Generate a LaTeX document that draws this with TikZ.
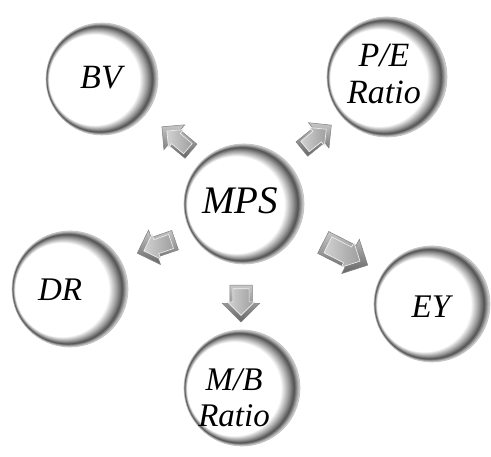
\documentclass[tikz,border=0pt]{standalone}
\usepackage{fontspec}
\setmainfont{Liberation Serif}
\usetikzlibrary{shapes.arrows,calc}

\tikzset{
  rim/.style={circle, draw=black!25, line width=0.6pt, fill=black!18, inner sep=0pt},
  btntext/.style={align=center, inner sep=0pt},
  arrbody/.style={single arrow, single arrow head indent=0pt, inner sep=0pt,
    draw=black!50, line width=0.5pt, top color=black!22, bottom color=black!60},
  arrface/.style={single arrow, single arrow head indent=0pt, inner sep=0pt,
    draw=black!5, line width=0.6pt, left color=black!18, right color=black!38},
}

% round button: name, x, y, radius, text x, text y, font size, line skip, text
% the bevel is built from nested discs that drift to the left,
% leaving a dark crescent on the right and a thin light edge on the left
\newcommand\roundbtn[9]{%
  \node[rim, minimum size={2*#4}] (#1) at (#2,#3) {};
  \foreach \k in {1,...,30}{%
    \pgfmathsetmacro\bvt{\k/30}%
    \pgfmathtruncatemacro\bvg{\bvt<0.28 ? 18+180*\bvt : (\bvt<0.5 ? 68-100*(\bvt-0.28) : 46-92*(\bvt-0.5))}%
    \fill[black!\bvg] ($(#1.center)+({-0.13*#4*\bvt},{-0.02*#4*\bvt})$) circle ({#4*(1-0.19*\bvt)});
  }
  \node[btntext, font=\fontsize{#7}{#8}\selectfont\itshape] (#1-text) at (#5,#6) {#9};
}

% block arrow: name, x, y, angle, length, shaft width, head width
\newcommand\blockarrow[7]{%
  \node[arrbody, rotate=#4, minimum height=#5pt, minimum width=#7pt,
    text height=#6pt, text depth=0pt, single arrow head extend={((#7)-(#6))/2}]
    (#1) at (#2,#3) {};
  \node[arrface, rotate=#4, scale=0.72, minimum height=#5pt, minimum width=#7pt,
    text height=#6pt, text depth=0pt, single arrow head extend={((#7)-(#6))/2}]
    (#1-face) at (#1.center) {};
}

\begin{document}
\begin{tikzpicture}[x=1pt, y=1pt]
  \fill[white] (0,0) rectangle (491,457);
  \useasboundingbox (0,0) rectangle (491,457);

  % arrows radiating from the centre
  \blockarrow{abv}{180}{315}{140}{38}{18}{32}
  \blockarrow{ape}{313}{317}{39}{38}{18}{32}
  \blockarrow{adr}{161}{212}{199}{40}{20}{36}
  \blockarrow{amb}{241}{159}{270}{37}{22}{37}
  \blockarrow{aey}{340}{206}{-27}{50}{24}{38}

  % buttons
  \roundbtn{bv}{102}{378}{56}{101}{379}{34}{37}{BV}
  \roundbtn{pe}{387}{380}{60}{384}{383.5}{34}{37}{P/E\\Ratio}
  \roundbtn{mps}{244}{253}{60}{240}{256}{39}{42}{MPS}
  \roundbtn{dr}{70}{168}{58}{60}{167}{33}{36}{DR}
  \roundbtn{ey}{432}{153}{58}{431}{150}{33}{36}{EY}
  \roundbtn{mb}{242}{69}{58}{234}{59.5}{33}{36}{M/B\\Ratio}
\end{tikzpicture}
\end{document}
